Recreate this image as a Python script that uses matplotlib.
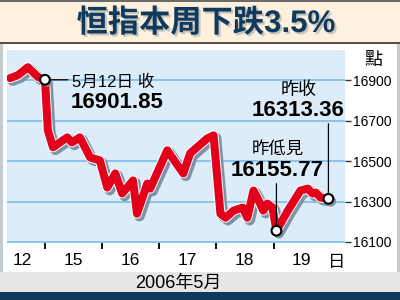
import numpy as np
import matplotlib
matplotlib.use('Agg')
import matplotlib.pyplot as plt
import matplotlib.patheffects as pe
from matplotlib.patches import Rectangle

plt.rcParams['font.family'] = ['Liberation Sans', 'Noto Sans CJK TC']

# 交易日位置: 5月12日收市 = 0, 每个交易日 = 1
times = [-0.61, -0.47, -0.30, -0.12, 0.0, 0.05, 0.14, 0.26, 0.39, 0.47,
         0.61, 0.79, 0.96, 1.09, 1.23, 1.35, 1.54, 1.61, 1.79, 1.84,
         2.14, 2.42, 2.54, 2.84, 2.95, 3.07, 3.16, 3.30, 3.46, 3.54,
         3.65, 3.74, 3.82, 3.89, 3.98, 4.05, 4.25, 4.47, 4.60, 4.68,
         4.74, 4.82, 4.96]
points = [16910, 16925, 16964, 16915, 16901.85, 16652, 16568, 16592, 16617, 16592,
          16617, 16518, 16503, 16369, 16439, 16340, 16404, 16240, 16389, 16364,
          16553, 16439, 16538, 16612, 16627, 16240, 16220, 16255, 16270, 16220,
          16354, 16305, 16255, 16290, 16270, 16155.77, 16255, 16354, 16364, 16340,
          16344, 16320, 16313.36]

day_labels = ['12', '15', '16', '17', '18', '19']
day_pos = [-0.40, 0.49, 1.49, 2.49, 3.49, 4.49]
day_ticks = [0, 1, 2, 3, 4]
y_ticks = [16100, 16300, 16500, 16700, 16900]

# 标注点 (index in the series)
i_close12 = 4
i_low = 35
i_last = 42

title = '恒指本周下跌3.5%'
month_label = '2006年5月'

RED = '#e2001a'
NAVY = '#0f3a5c'

fig = plt.figure(figsize=(4, 3), dpi=100)
fig.patch.set_facecolor('white')

def frect(x, y, w, h, color):
    # x, y, w, h in pixels from top-left
    fig.add_artist(Rectangle((x / 400, 1 - (y + h) / 300), w / 400, h / 300,
                             transform=fig.transFigure, facecolor=color,
                             edgecolor='none', zorder=0))

frect(0, 0, 400, 44, '#fdf1dd')
frect(0, 0, 400, 1.5, '#6b6b6b')
frect(0, 42, 400, 2, '#5b5045')
frect(0, 44, 3, 228, '#c3cbd3')
frect(397, 44, 3, 228, '#c3cbd3')
frect(0, 272, 400, 20, '#e6e6e6')
frect(0, 292, 400, 8, NAVY)

fig.text(206 / 400, 1 - 24 / 300, title, ha='center', va='center',
         fontsize=22.5, fontweight='bold', color=NAVY,
         path_effects=[pe.SimplePatchShadow(offset=(1.5, -1.5), shadow_rgbFace='#c9c4bc', alpha=1),
                       pe.Normal()])

ax = fig.add_axes([7 / 400, 57 / 300, 338 / 400, 193 / 300])
ax.set_facecolor('#dcedf9')
for s in ax.spines.values():
    s.set_visible(False)
ax.set_xlim(-0.665, 5.25)
ax.set_ylim(16095, 17049)

for v in y_ticks:
    ax.axhline(v, color='#7fc0ea', lw=1.3, zorder=1)

ax.plot(times, points, color=RED, lw=5.8, solid_joinstyle='round', solid_capstyle='round',
        zorder=3,
        path_effects=[pe.SimpleLineShadow(offset=(1.8, -1.8), shadow_color='#7f93a8', alpha=1, linewidth=7.6),
                      pe.Stroke(linewidth=7.2, foreground='white'),
                      pe.Normal()])

mk_idx = [i_close12, i_low, i_last]
ax.plot([times[i] for i in mk_idx], [points[i] for i in mk_idx], 'o', ms=7,
        mfc='white', mec='black', mew=1.5, zorder=5,
        path_effects=[pe.SimplePatchShadow(offset=(1.5, -1.5), shadow_rgbFace='#7f93a8', alpha=1),
                      pe.Normal()])

line_kw = dict(arrowstyle='-', color='black', lw=0.9, shrinkA=0, shrinkB=0)

# 5月12日 收
p = (times[i_close12], points[i_close12])
ax.annotate('', xy=p, xytext=(23, 0), textcoords='offset pixels', arrowprops=line_kw, zorder=4)
ax.annotate('5月12日 收', xy=p, xytext=(27, -2), textcoords='offset pixels',
            ha='left', va='center', fontsize=12, color='black')
ax.annotate('%.2f' % points[i_close12], xy=p, xytext=(26, -23), textcoords='offset pixels',
            ha='left', va='center', fontsize=16, fontweight='bold', color='black')

# 昨低見
p = (times[i_low], points[i_low])
ax.annotate('', xy=p, xytext=(0, 47), textcoords='offset pixels', arrowprops=line_kw, zorder=4)
ax.annotate('昨低見', xy=p, xytext=(1, 82), textcoords='offset pixels',
            ha='center', va='center', fontsize=12.5, color='black')
ax.annotate('%.2f' % points[i_low], xy=p, xytext=(1, 60), textcoords='offset pixels',
            ha='center', va='center', fontsize=16, fontweight='bold', color='black')

# 昨收
p = (times[i_last], points[i_last])
ax.annotate('', xy=p, xytext=(0, 75), textcoords='offset pixels', arrowprops=line_kw, zorder=4)
ax.annotate('昨收', xy=p, xytext=(-30, 108), textcoords='offset pixels',
            ha='center', va='center', fontsize=13, color='black', annotation_clip=False)
ax.annotate('%.2f' % points[i_last], xy=p, xytext=(-30, 88), textcoords='offset pixels',
            ha='center', va='center', fontsize=16, fontweight='bold', color='black',
            annotation_clip=False)

# x axis
ax.set_xticks(day_ticks)
ax.set_xticklabels([])
ax.set_xticks(day_pos, minor=True)
ax.set_xticklabels(day_labels, minor=True, fontsize=12.5)
ax.tick_params(axis='x', which='major', length=4, width=1.3, color='black', direction='out')
ax.tick_params(axis='x', which='minor', length=0, pad=7)

# y axis on the right
ax.yaxis.tick_right()
ax.set_yticks(y_ticks)
ax.set_yticklabels([str(v) for v in y_ticks], fontsize=10)
ax.tick_params(axis='y', length=4, width=1, color='#333333', pad=2)

fig.text(337 / 400, 1 - 262 / 300, '日', ha='center', va='center', fontsize=12.5)
fig.text(373 / 400, 1 - 61 / 300, '點', ha='center', va='center', fontsize=13)
fig.text(178 / 400, 1 - 283 / 300, month_label, ha='center', va='center', fontsize=13)

fig.savefig('out.png', dpi=100)
